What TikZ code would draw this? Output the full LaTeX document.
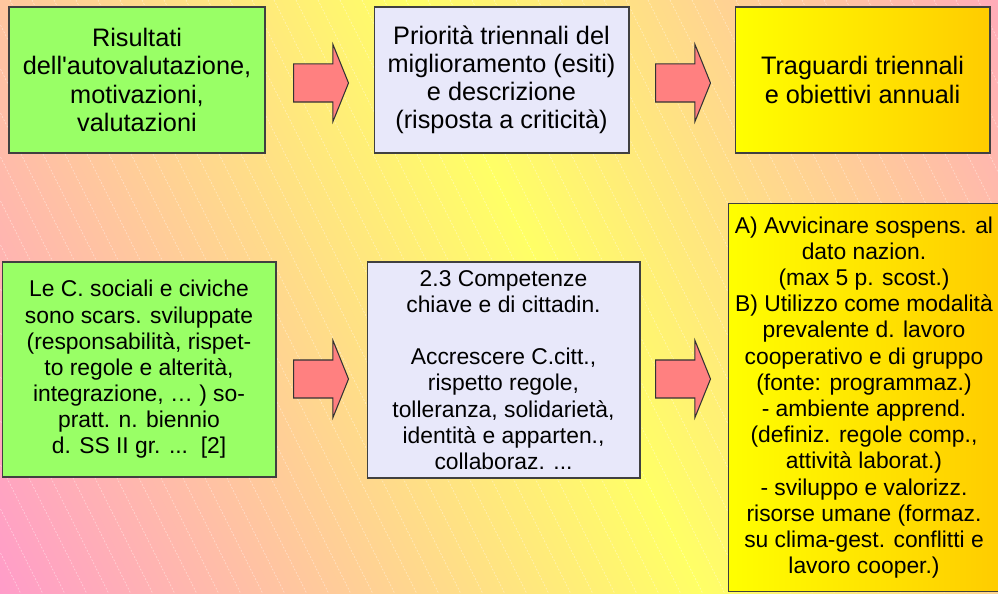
\documentclass[tikz,border=0pt]{standalone}
\usepackage{fontspec}
\setmainfont{Liberation Sans}
\usepackage{xcolor}
\usepackage{tikz}
\usetikzlibrary{shapes.arrows}
\definecolor{bgpink}{RGB}{255,153,204}
\definecolor{bgpeach}{RGB}{255,204,153}
\definecolor{bgyellow}{RGB}{255,255,102}
\definecolor{lightgreen}{RGB}{153,255,102}
\definecolor{lightlavender}{RGB}{232,232,250}
\definecolor{goldyellow}{RGB}{255,255,0}
\definecolor{goldorange}{RGB}{255,204,0}
\definecolor{arrowred}{RGB}{255,128,128}
\pgfdeclarehorizontalshading{bgband}{100bp}{color(0bp)=(bgpink); color(25bp)=(bgpink); color(37.5bp)=(bgpeach); color(50bp)=(bgyellow); color(62.5bp)=(bgpeach); color(75bp)=(bgpink); color(100bp)=(bgpink)}

\begin{document}
\begin{tikzpicture}[x=0.02cm, y=-0.02cm,
  box/.style={draw=black!75, line width=0.6pt, align=center, inner sep=0pt},
  topbox/.style={box, minimum width=5.1cm, minimum height=2.92cm, font=\fontsize{14.4}{16}\selectfont},
  lowbox/.style={box, font=\fontsize{13}{14.9}\selectfont},
  goldbox/.style={left color=goldyellow, right color=goldorange},
  blockarrow/.style={single arrow, draw=black!80, fill=arrowred, line width=0.6pt,
    inner xsep=0pt, inner ysep=0.37cm,
    single arrow head extend=0.39cm, single arrow tip angle=136,
    minimum height=1.1cm, anchor=tail},
  hatch/.style={white, opacity=0.5, line width=0.35pt, dash pattern=on 1pt off 1pt}]
\useasboundingbox (0,0) rectangle (998,594);
% background
\begin{scope}
\clip (0,0) rectangle (998,594);
\shade[shading=bgband, shading angle=26.6] (554,297) ++(-650,-650) rectangle ++(1300,1300);
\foreach \x in {-320,-298,...,1000}
  \draw[hatch] (\x,0) -- ++(297,594);
\end{scope}
% top row
\node[topbox, fill=lightgreen, minimum width=5.12cm] (risultati) at (137,80)
  {Risultati\\dell\textquotesingle autovalutazione,\\motivazioni,\\valutazioni};
\node[topbox, fill=lightlavender] (priorita) at (501.5,80)
  {Priorità triennali del\\miglioramento (esiti)\\e descrizione\\(risposta a criticità)};
\node[topbox, goldbox] (traguardi) at (862.5,80)
  {Traguardi triennali\\e obiettivi annuali};
\node[blockarrow] (arrowA) at (293,83) {};
\node[blockarrow] (arrowB) at (655,83) {};
% bottom row
\node[lowbox, fill=lightgreen, minimum width=5.48cm, minimum height=4.3cm] (sociali) at (139,369.5)
  {Le C. sociali e civiche\\sono scars. sviluppate\\(responsabilità, rispet-\\to regole e alterità,\\integrazione, … ) so-\\pratt. n. biennio\\d. SS II gr. ...\ \ [2]};
\node[lowbox, fill=lightlavender, minimum width=5.46cm, minimum height=4.32cm] (competenze) at (503.5,370)
  {2.3 Competenze\\chiave e di cittadin.\\[14.9pt]Accrescere C.citt.,\\rispetto regole,\\tolleranza, solidarietà,\\identità e apparten.,\\collaboraz. ...};
\node[lowbox, goldbox, minimum width=5.44cm, minimum height=7.78cm] (obiettivi) at (864,397.5)
  {A) Avvicinare sospens. al\\dato nazion.\\(max 5 p. scost.)\\B) Utilizzo come modalità\\prevalente d. lavoro\\cooperativo e di gruppo\\(fonte: programmaz.)\\- ambiente apprend.\\(definiz. regole comp.,\\attività laborat.)\\- sviluppo e valorizz.\\risorse umane (formaz.\\su clima-gest. conflitti e\\lavoro cooper.)};
\node[blockarrow] (arrowC) at (293,379) {};
\node[blockarrow] (arrowD) at (655,379) {};
\end{tikzpicture}
\end{document}
